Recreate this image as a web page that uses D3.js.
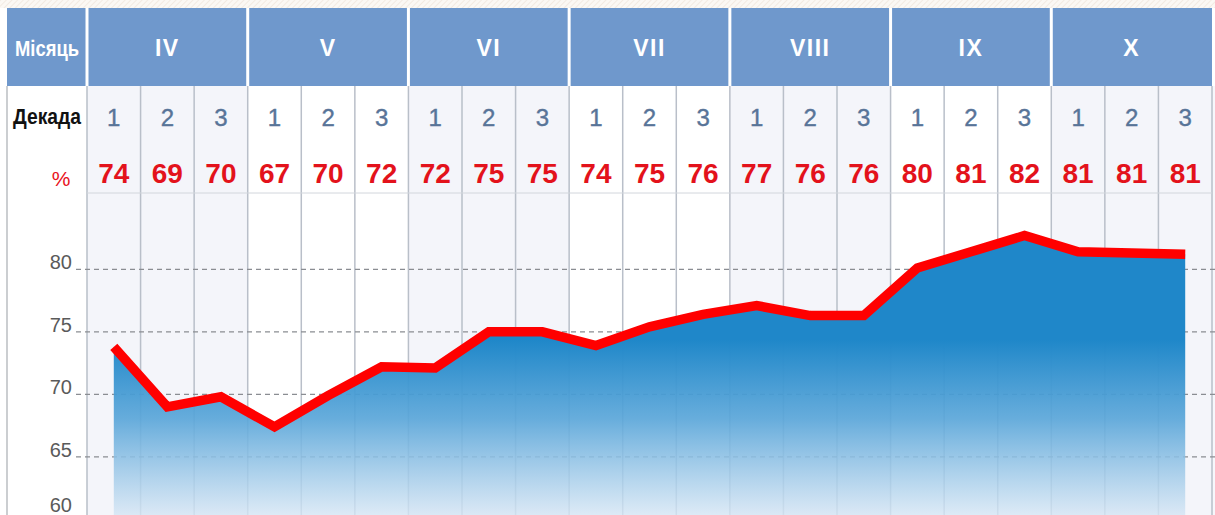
<!DOCTYPE html>
<html>
<head>
<meta charset="utf-8">
<script src="https://cdn.jsdelivr.net/npm/d3@7"></script>
<style>
html,body{margin:0;padding:0;background:#fff;}
svg{display:block;font-family:"Liberation Sans",Arial,sans-serif;}
</style>
</head>
<body>
<svg id="chart" width="1215" height="515"></svg>
<script>
const months = ["IV","V","VI","VII","VIII","IX","X"];
const decades = ["1","2","3"];
const labelValues = [74,69,70,67,70,72,72,75,75,74,75,76,77,76,76,80,81,82,81,81,81];
const lineValues = [73.8,69.0,69.8,67.4,69.9,72.2,72.1,75.0,75.0,73.9,75.4,76.4,77.1,76.3,76.3,80.1,81.4,82.7,81.4,81.3,81.2];
const yTicks = [60,65,70,75,80];
const monthTitle = "Місяць";
const decadeTitle = "Декада";
const pctTitle = "%";

const W = 1215, H = 515;
const svg = d3.select("#chart");

const left = 87, right = 1212, frameLeft = 7;
const headerTop = 8, headerBottom = 86;

const idx = d3.range(months.length * decades.length);
const x = d3.scaleBand().domain(idx).range([left, right]).padding(0);
const xm = d3.scaleBand().domain(months).range([left, right]).padding(0);
const y = d3.scaleLinear().domain([60, 80]).range([519.3, 269.3]);

// defs
const defs = svg.append("defs");
const pat = defs.append("pattern").attr("id","hatch").attr("patternUnits","userSpaceOnUse")
  .attr("width",4).attr("height",4).attr("patternTransform","rotate(45)");
pat.append("rect").attr("width",4).attr("height",4).attr("fill","#fbf8f4");
pat.append("line").attr("x1",0).attr("y1",0).attr("x2",0).attr("y2",4).attr("stroke","#efe6dc").attr("stroke-width",1.5);

const grad = defs.append("linearGradient").attr("id","areaGrad")
  .attr("gradientUnits","userSpaceOnUse").attr("x1",0).attr("x2",0).attr("y1",340).attr("y2",515);
grad.append("stop").attr("offset",0).attr("stop-color","#1f87c9").attr("stop-opacity",1);
grad.append("stop").attr("offset",0.45).attr("stop-color","#5aa6d9").attr("stop-opacity",0.92);
grad.append("stop").attr("offset",1).attr("stop-color","#d4e5f4").attr("stop-opacity",0.8);

// top hatched strip
svg.append("rect").attr("x",0).attr("y",0).attr("width",W).attr("height",headerTop).attr("fill","url(#hatch)");

// column backgrounds (alternate shading per month)
svg.append("g").selectAll("rect").data(months).join("rect")
  .attr("x", d => xm(d)).attr("y", headerBottom)
  .attr("width", xm.bandwidth()).attr("height", H - headerBottom)
  .attr("fill", (d,i) => i % 2 === 0 ? "#f4f5fa" : "#ffffff");
svg.append("rect").attr("x", right).attr("y", headerBottom).attr("width", W-right).attr("height", H-headerBottom).attr("fill","#f7f7fb");

// vertical grid lines
svg.append("g").selectAll("line").data(d3.range(idx.length + 1)).join("line")
  .attr("x1", i => i < idx.length ? x(i) : right)
  .attr("x2", i => i < idx.length ? x(i) : right)
  .attr("y1", headerBottom).attr("y2", H)
  .attr("stroke", "#b9bfc9").attr("stroke-width", 1.5);

// frame left line
svg.append("line").attr("x1",frameLeft).attr("x2",frameLeft).attr("y1",headerBottom).attr("y2",H)
  .attr("stroke","#a9adb3").attr("stroke-width",1.2);

// horizontal separator under % row
svg.append("line").attr("x1",left).attr("x2",right).attr("y1",193).attr("y2",193)
  .attr("stroke","#d2d6dc").attr("stroke-width",1);

// dashed horizontal gridlines
svg.append("g").selectAll("line").data(yTicks.filter(v => y(v) < H)).join("line")
  .attr("x1", 76).attr("x2", W).attr("y1", d => y(d)).attr("y2", d => y(d))
  .attr("stroke", "#8a8d92").attr("stroke-width", 1.3).attr("stroke-dasharray","5,4");

// y tick labels
svg.append("g").selectAll("text").data(yTicks).join("text")
  .attr("x", 72).attr("y", d => Math.min(y(d), 512))
  .attr("text-anchor","end").attr("font-size", 20).attr("fill","#5a5a5a")
  .text(d => d);

// area + line
const pts = lineValues.map((v,i) => [x(i) + x.bandwidth()/2, y(v)]);
const area = d3.area().x(d => d[0]).y0(y(60)).y1(d => d[1]);
svg.append("path").datum(pts).attr("d", area).attr("fill","url(#areaGrad)");
const line = d3.line().x(d => d[0]).y(d => d[1]);
svg.append("path").datum(pts).attr("d", line).attr("fill","none")
  .attr("stroke","#ff0000").attr("stroke-width",9.5).attr("stroke-linejoin","miter");

// header band
svg.append("rect").attr("x",frameLeft).attr("y",headerTop).attr("width",right-frameLeft).attr("height",headerBottom-headerTop)
  .attr("fill","#6f98cc");
svg.append("g").selectAll("line").data(months).join("line")
  .attr("x1", d => xm(d)).attr("x2", d => xm(d)).attr("y1", headerTop).attr("y2", headerBottom)
  .attr("stroke","#ffffff").attr("stroke-width",3);
svg.append("text").attr("x", 47).attr("y", 56).attr("text-anchor","middle")
  .attr("font-size",22).attr("font-weight","bold").attr("fill","#ffffff")
  .attr("textLength",64).attr("lengthAdjust","spacingAndGlyphs").text(monthTitle);
svg.append("g").selectAll("text").data(months).join("text")
  .attr("x", d => xm(d) + xm.bandwidth()/2).attr("y", 56).attr("text-anchor","middle")
  .attr("font-size",23).attr("font-weight","bold").attr("fill","#ffffff").attr("letter-spacing",1.5)
  .text(d => d);

// decade row
svg.append("text").attr("x", 47).attr("y", 124).attr("text-anchor","middle")
  .attr("font-size",22).attr("font-weight","bold").attr("fill","#111")
  .attr("textLength",68).attr("lengthAdjust","spacingAndGlyphs").text(decadeTitle);
svg.append("g").selectAll("text").data(idx).join("text")
  .attr("x", i => x(i) + x.bandwidth()/2).attr("y", 126).attr("text-anchor","middle")
  .attr("font-size",24).attr("fill","#587498").attr("stroke","#587498").attr("stroke-width",0.4)
  .text(i => decades[i % decades.length]);

// percent row
svg.append("text").attr("x", 61).attr("y", 186).attr("text-anchor","middle")
  .attr("font-size",21).attr("fill","#e8131c").text(pctTitle);
svg.append("g").selectAll("text").data(labelValues).join("text")
  .attr("x", (d,i) => x(i) + x.bandwidth()/2).attr("y", 183).attr("text-anchor","middle")
  .attr("font-size",28).attr("font-weight","bold").attr("fill","#e3121b")
  .text(d => d);
</script>
</body>
</html>
